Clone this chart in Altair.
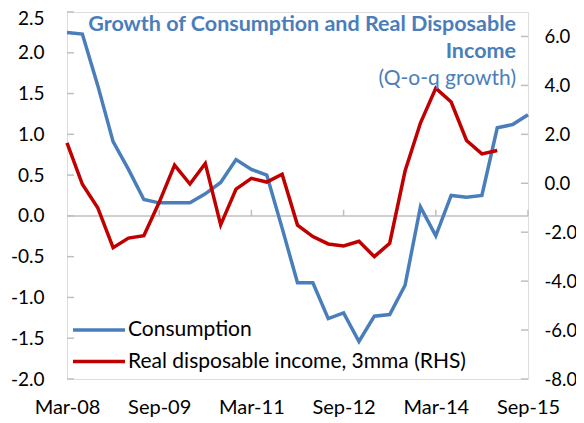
import altair as alt
import pandas as pd

quarters = ["Mar-08", "Jun-08", "Sep-08", "Dec-08", "Mar-09", "Jun-09", "Sep-09", "Dec-09",
            "Mar-10", "Jun-10", "Sep-10", "Dec-10", "Mar-11", "Jun-11", "Sep-11", "Dec-11",
            "Mar-12", "Jun-12", "Sep-12", "Dec-12", "Mar-13", "Jun-13", "Sep-13", "Dec-13",
            "Mar-14", "Jun-14", "Sep-14", "Dec-14", "Mar-15", "Jun-15", "Sep-15"]
consumption = [2.25, 2.23, 1.60, 0.91, 0.57, 0.20, 0.16, 0.16, 0.16, 0.27, 0.41, 0.69, 0.57,
               0.50, -0.15, -0.82, -0.82, -1.26, -1.19, -1.54, -1.23, -1.21, -0.85, 0.11,
               -0.245, 0.25, 0.23, 0.25, 1.08, 1.12, 1.24]
income_3mma = [1.65, -0.04, -1.0, -2.63, -2.24, -2.14, -0.78, 0.74, -0.03, 0.81, -1.70, -0.24,
               0.20, 0.05, 0.37, -1.71, -2.18, -2.48, -2.56, -2.37, -3.0, -2.45, 0.5, 2.46,
               3.89, 3.32, 1.75, 1.20, 1.34]
x_tick_labels = ["Mar-08", "Sep-09", "Mar-11", "Sep-12", "Mar-14", "Sep-15"]
left_ticks = [-2.0, -1.5, -1.0, -0.5, 0.0, 0.5, 1.0, 1.5, 2.0, 2.5]
right_ticks = [-8.0, -6.0, -4.0, -2.0, 0.0, 2.0, 4.0, 6.0]
series_names = ["Consumption", "Real disposable income, 3mma (RHS)"]
title_lines = ["Growth of Consumption and Real Disposable", "Income"]
subtitle = "(Q-o-q growth)"

BLUE = "#4A7EBB"
RED = "#C00000"
GRAY = "#BFBFBF"
FONT = "Lato"

W, H = 461, 367
TICK_LEN = 0.075  # x tick length in left-axis units (styling)
HYPHEN_FMT = "(datum.value < 0 ? '-' : '') + format(abs(datum.value), '.1f')"

df_c = pd.DataFrame({"q": quarters, "v": consumption})
df_r = pd.DataFrame({"q": quarters[:len(income_3mma)], "v": income_3mma})
df_lt = pd.DataFrame({"v": left_ticks})
df_rt = pd.DataFrame({"v": right_ticks})
df_xt = pd.DataFrame({"q": x_tick_labels[1:], "v": [0.0] * 5, "v2": [TICK_LEN] * 5})
df_zero = pd.DataFrame({"v": [0.0]})
one = pd.DataFrame({"a": [0]})

xscale = alt.Scale(type="point", padding=0, domain=quarters)
yL = alt.Scale(domain=[-2.0, 2.5], nice=False, zero=False)
yR = alt.Scale(domain=[-8.0, 7.0], nice=False, zero=False)

x_enc = alt.X("q:N", scale=xscale, sort=None,
              axis=alt.Axis(values=x_tick_labels, labelAngle=0, domain=False, ticks=False,
                            grid=False, labelFontSize=20, labelFont=FONT, labelColor="#000000",
                            labelPadding=18, labelFlush=False, labelOverlap=False, title=None))

zero_line = alt.Chart(df_zero).mark_rule(color=GRAY, strokeWidth=1.5).encode(
    y=alt.Y("v:Q", scale=yL, axis=None), x=alt.value(0), x2=alt.value(W))

x_ticks = alt.Chart(df_xt).mark_rule(color=GRAY, strokeWidth=1.5).encode(
    x=x_enc, y=alt.Y("v:Q", scale=yL, axis=None), y2="v2:Q")

l_ticks = alt.Chart(df_lt).mark_rule(color=GRAY, strokeWidth=1.5).encode(
    y=alt.Y("v:Q", scale=yL, axis=None), x=alt.value(0), x2=alt.value(7))

r_ticks = alt.Chart(df_rt).mark_rule(color=GRAY, strokeWidth=1.5).encode(
    y=alt.Y("v:Q", scale=yR, axis=None), x=alt.value(W - 7), x2=alt.value(W))

blue_line = alt.Chart(df_c).mark_line(color=BLUE, strokeWidth=3.5).encode(
    x=x_enc,
    y=alt.Y("v:Q", scale=yL,
            axis=alt.Axis(values=left_ticks, labelExpr=HYPHEN_FMT, orient="left", domain=False,
                          ticks=False, grid=False, labelFontSize=19, labelFont=FONT,
                          labelColor="#000000", labelPadding=23, title=None,
                          labelOffset={"condition": {"test": "datum.value == 2.5", "value": 6},
                                       "value": 0})))

red_line = alt.Chart(df_r).mark_line(color=RED, strokeWidth=3.5).encode(
    x=x_enc,
    y=alt.Y("v:Q", scale=yR,
            axis=alt.Axis(values=right_ticks, labelExpr=HYPHEN_FMT, orient="right", domain=False,
                          ticks=False, grid=False, labelFontSize=18.5, labelFont=FONT,
                          labelColor="#000000", labelPadding=16, title=None)))


def txt(s, x, y, size=21, weight="normal", color=BLUE, align="right"):
    return alt.Chart(one).mark_text(text=s, font=FONT, fontSize=size, fontWeight=weight,
                                    color=color, align=align, baseline="middle").encode(
        x=alt.value(x), y=alt.value(y))


t1 = txt(title_lines[0], 449, 13, size=21.5, weight="bold")
t2 = txt(title_lines[1], 449, 40, size=21.5, weight="bold")
t3 = txt(subtitle, 449, 67)

lg1 = alt.Chart(one).mark_rule(color=BLUE, strokeWidth=3.5).encode(
    x=alt.value(6), x2=alt.value(58), y=alt.value(318))
lg2 = alt.Chart(one).mark_rule(color=RED, strokeWidth=3.5).encode(
    x=alt.value(6), x2=alt.value(58), y=alt.value(349.5))
lt1 = txt(series_names[0], 61, 318, color="#000000", align="left")
lt2 = txt(series_names[1], 61, 349.5, color="#000000", align="left")

chart = alt.layer(zero_line, x_ticks, l_ticks, r_ticks, blue_line, red_line,
                  t1, t2, t3, lg1, lg2, lt1, lt2).resolve_scale(y="independent").properties(
    width=W, height=H,
    autosize=alt.AutoSizeParams(type="none"),
    padding={"left": 59, "top": 4, "right": 48, "bottom": 41},
).configure_view(stroke=GRAY, strokeWidth=2).configure(background="white")

chart.save("out.html", embed_options={"renderer": "svg", "actions": False})
